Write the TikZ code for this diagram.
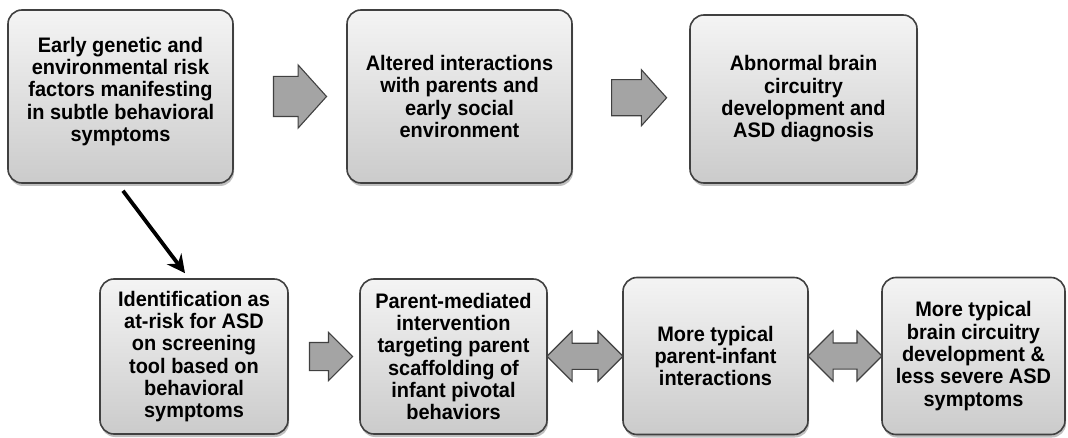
\documentclass[tikz,border=0pt]{standalone}
\usepackage{fontspec}
\setmainfont{Liberation Sans}
\newfontfamily\boxfont[FakeStretch=0.95]{Liberation Sans}
\usetikzlibrary{shapes.arrows,arrows.meta,shadows,calc}

\definecolor{boxtop}{HTML}{F4F4F4}
\definecolor{boxbot}{HTML}{CBCBCB}
\definecolor{edge}{HTML}{404040}
\definecolor{arrowfill}{HTML}{A4A4A4}

\tikzset{
  stepbox/.style={
    draw=edge, line width=1.6pt, rounded corners=14pt,
    top color=boxtop, bottom color=boxbot,
    drop shadow={shadow xshift=1pt, shadow yshift=-3pt, opacity=0.25, fill=black},
    align=center, inner sep=2pt,
    font=\boxfont\bfseries\fontsize{21}{22.3}\selectfont
  },
  fatarrow/.style={
    single arrow, draw=edge, line width=1.1pt, fill=arrowfill,
    inner xsep=0pt, minimum width=0pt, text width=0pt
  },
  twinarrow/.style={
    double arrow, draw=edge, line width=1.1pt, fill=arrowfill,
    inner xsep=0pt, minimum width=0pt, text width=0pt
  },
  link/.style={line width=3.8pt, -{Stealth[length=18pt,width=18pt,inset=6pt]}}
}

\begin{document}
\begin{tikzpicture}[x=1pt,y=-1pt]
\useasboundingbox (0,0) rectangle (1068,438);

% top row
\node[stepbox, minimum width=225pt, minimum height=173pt] (b1) at (120.5,96.5)
  {Early genetic and\\environmental risk\\factors manifesting\\in subtle behavioral\\symptoms\\[-8pt]\mbox{}};
\node[stepbox, minimum width=225pt, minimum height=173pt] (b2) at (459.5,96.5)
  {Altered interactions\\with parents and\\early social\\environment};
\node[stepbox, minimum width=227pt, minimum height=168pt] (b3) at (803.5,99)
  {Abnormal brain\\circuitry\\development and\\ASD diagnosis};

% bottom row
\node[stepbox, minimum width=188pt, minimum height=155pt] (b4) at (194,356.5)
  {Identification as\\at-risk for ASD\\on screening\\tool based on\\behavioral\\symptoms};
\node[stepbox, minimum width=187pt, minimum height=155pt] (b5) at (453.5,356.5)
  {Parent-mediated\\intervention\\targeting parent\\scaffolding of\\infant pivotal\\behaviors};
\node[stepbox, minimum width=185pt, minimum height=157pt] (b6) at (715.5,356)
  {More typical\\parent-infant\\interactions};
\node[stepbox, minimum width=183pt, minimum height=157pt] (b7) at (973.5,356)
  {More typical\\brain circuitry\\development \&\\less severe ASD\\symptoms};

% block arrows between steps
\node[fatarrow, inner ysep=19.5pt, single arrow head extend=11.5pt,
      minimum height=53pt, single arrow tip angle=96] (a1)
  at ($(b1.east)!0.5!(b2.west)+(1,0)$) {};
\node[fatarrow, inner ysep=17.5pt, single arrow head extend=10pt,
      minimum height=55pt, single arrow tip angle=96] (a2)
  at ($(b2.east)!0.5!(b3.west)$) {};
\node[fatarrow, inner ysep=13.5pt, single arrow head extend=10pt,
      minimum height=43pt, single arrow tip angle=90] (a3)
  at ($(b4.east)!0.5!(b5.west)$) {};
\node[twinarrow, inner ysep=12.5pt, double arrow head extend=12pt,
      minimum height=76pt, double arrow tip angle=90] (a4)
  at ($(b5.east)!0.5!(b6.west)$) {};
\node[twinarrow, inner ysep=12.5pt, double arrow head extend=12pt,
      minimum height=74pt, double arrow tip angle=90] (a5)
  at ($(b6.east)!0.5!(b7.west)$) {};

% screening link
\coordinate (s1) at ($(b1.south)+(2.5,7)$);
\coordinate (s2) at ($(b4.north)+(-9,-5)$);
\draw[link] (s1) -- (s2);
\end{tikzpicture}
\end{document}
